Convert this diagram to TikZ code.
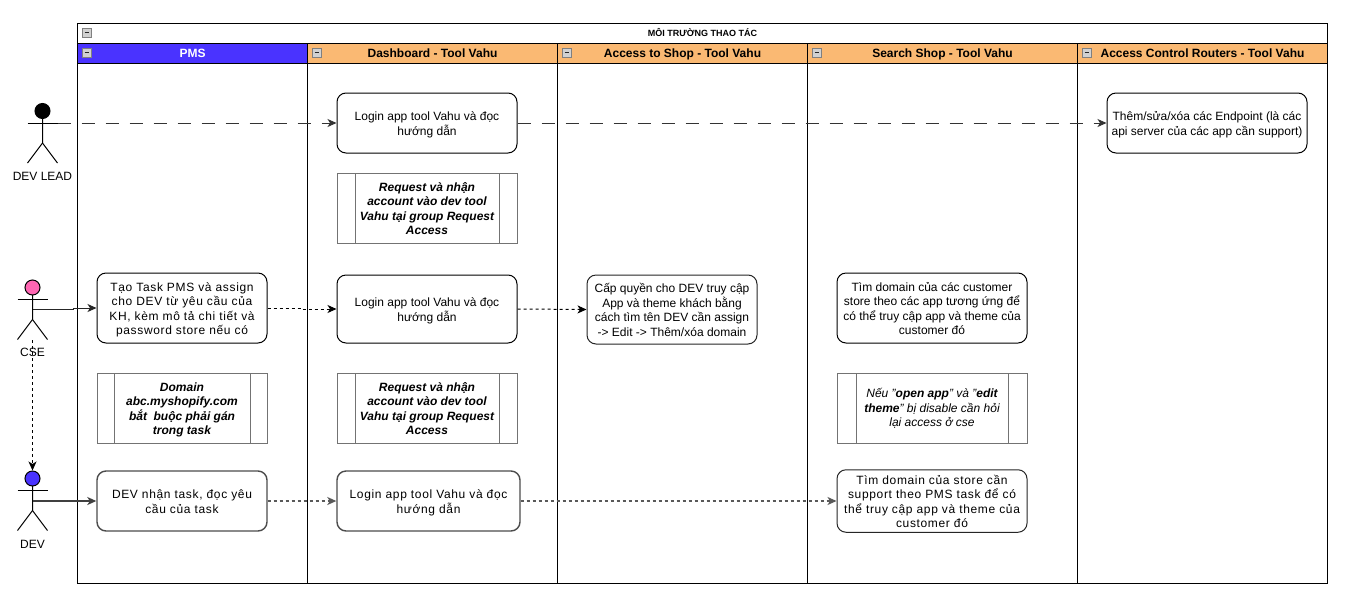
\documentclass[tikz,border=0pt]{standalone}
\usepackage{fontspec}
\setmainfont{Liberation Sans}
\usetikzlibrary{arrows.meta}
\definecolor{headblue}{HTML}{4A33FF}
\definecolor{headorange}{HTML}{FAB973}
\definecolor{csepink}{HTML}{FF66B3}
\newcommand{\sz}{\fontsize{12}{14.5}\selectfont}
\newcommand{\wid}{\addfontfeature{LetterSpace=5.5}}
\newcommand{\collapseicon}[2]{%
  \fill[draw=black!50,fill=black!18,line width=0.9] (#1,#2) rectangle ++(8.5,8.5);
  \draw[line width=1.1,black!85] (#1+2,#2+4.25) -- ++(4.5,0);}
\newcommand{\actorfig}[4]{% name, cx, head cy, colour
  \draw[line width=1,fill=#4] (#2,#3) circle[radius=7.5];
  \draw[line width=1] (#2-15,#3+12) -- (#2+15,#3+12);
  \draw[line width=1] (#2,#3+7.5) -- (#2,#3+32) -- (#2-15,#3+52);
  \draw[line width=1] (#2,#3+32) -- (#2+15,#3+52);}
\tikzset{
  x=1pt,y=-1pt,
  twolines/.style={text height=24.5,text depth=0},
  threelines/.style={text height=37.5,text depth=0},
  fourlines/.style={text height=53,text depth=0},
  lane/.style={draw=black,line width=1,anchor=north west,inner sep=0},
  headtxt/.style={lane,font=\sz\bfseries,minimum height=20,text height=11,text depth=3},
  proc/.style={draw=black,line width=1,rounded corners=9,align=center,inner sep=0,font=\sz},
  procg/.style={proc,draw=black!70,line width=1.4},
  sub/.style={draw=black!55,line width=1,align=center,inner sep=0,font=\sz},
  lab/.style={font=\sz,inner sep=0,text height=11,text depth=3},
  conn/.style={line width=1,-{Stealth[length=9,width=8,inset=2.5]}},
  longdash/.style={conn,black!80,dash pattern=on 13 off 11},
  shortdash/.style={conn,dash pattern=on 3 off 3},
  fatdash/.style={conn,black!65,line width=1.4,dash pattern=on 3 off 3},
}
\begin{document}
\begin{tikzpicture}
\useasboundingbox (0,0) rectangle (1357,611);
\fill[white] (0,0) rectangle (1357,611);
% swimlanes
\node[lane,minimum width=1250,minimum height=20,font=\fontsize{9}{10}\selectfont\bfseries,text height=7,text depth=2] (title) at (77,23) {MÔI TRƯỜNG THAO TÁC};
\node[headtxt,fill=headblue,text=white,minimum width=230] (h1) at (77,43) {PMS};
\node[headtxt,fill=headorange,minimum width=250] (h2) at (307,43) {Dashboard - Tool Vahu};
\node[headtxt,fill=headorange,minimum width=250] (h3) at (557,43) {Access to Shop - Tool Vahu};
\node[headtxt,fill=headorange,minimum width=270] (h4) at (807,43) {Search Shop - Tool Vahu};
\node[headtxt,fill=headorange,minimum width=250] (h5) at (1077,43) {Access Control Routers - Tool Vahu};
\node[lane,minimum width=230,minimum height=520] (l1) at (77,63) {};
\node[lane,minimum width=250,minimum height=520] (l2) at (307,63) {};
\node[lane,minimum width=250,minimum height=520] (l3) at (557,63) {};
\node[lane,minimum width=270,minimum height=520] (l4) at (807,63) {};
\node[lane,minimum width=250,minimum height=520] (l5) at (1077,63) {};
\collapseicon{82.5}{28.5}
\collapseicon{82.5}{48.5}
\collapseicon{312.5}{48.5}
\collapseicon{562.5}{48.5}
\collapseicon{812.5}{48.5}
\collapseicon{1082.5}{48.5}
% actors
\actorfig{lead}{42.5}{111}{black}
\actorfig{cse}{32.5}{287.5}{csepink}
\actorfig{dev}{32.5}{478.5}{headblue}
\node[lab] (leadlab) at (42.5,176.5) {DEV LEAD};
\node[lab] (cselab) at (32.5,352.5) {CSE};
\node[lab] (devlab) at (32.5,544.5) {DEV};
\coordinate (leadarm) at (57.5,123);
\coordinate (csehip) at (32.5,309.7);
\coordinate (csefoot) at (32.5,340);
\coordinate (devhead) at (32.5,470.5);
\coordinate (devhip) at (32.5,501);
% boxes
\node[proc,twolines,minimum width=180,minimum height=60] (b1) at (427,123) {Login app tool Vahu và đọc\\hướng dẫn};
\node[proc,twolines,minimum width=200,minimum height=60] (ep) at (1207,123) {Thêm/sửa/xóa các Endpoint (là các\\api server của các app cần support)};
\node[sub,fourlines,minimum width=180,minimum height=70,font=\sz\bfseries\itshape] (r1) at (427,208) {Request và nhận\\account vào dev tool\\Vahu tại group Request\\Access};
\draw[black!55,line width=1] (355.5,173) -- (355.5,243) (499.5,173) -- (499.5,243);
\node[proc,fourlines,minimum width=170,minimum height=70] (p1) at (182,308) {\wid Tạo Task PMS và assign\\\wid cho DEV từ yêu cầu của\\\wid KH, kèm mô tả chi tiết và\\\wid password store nếu có};
\node[proc,twolines,minimum width=180,minimum height=68] (b2) at (427,309) {Login app tool Vahu và đọc\\hướng dẫn};
\node[proc,fourlines,draw=black!85,minimum width=170,minimum height=69] (cap) at (672,309.5) {Cấp quyền cho DEV truy cập\\App và theme khách bằng\\cách tìm tên DEV cần assign\\ -> Edit -> Thêm/xóa domain};
\node[proc,fourlines,minimum width=190,minimum height=70] (s1) at (932,308) {Tìm domain của các customer\\store theo các app tương ứng để\\có thể truy cập app và theme của\\customer đó};
\node[sub,fourlines,minimum width=170,minimum height=70,font=\sz\bfseries\itshape] (r3) at (182,408) {Domain\\abc.myshopify.com\\bắt\ \ buộc phải gán\\trong task};
\draw[black!55,line width=1] (114,373) -- (114,443) (250,373) -- (250,443);
\node[sub,fourlines,minimum width=180,minimum height=70,font=\sz\bfseries\itshape] (r2) at (427,408) {Request và nhận\\account vào dev tool\\Vahu tại group Request\\Access};
\draw[black!55,line width=1] (355.5,373) -- (355.5,443) (499.5,373) -- (499.5,443);
\node[sub,threelines,minimum width=190,minimum height=70,font=\sz\itshape] (r4) at (932,408) {Nếu "\textbf{open app}" và "\textbf{edit}\\\textbf{theme}" bị disable cần hỏi\\lại access ở cse};
\draw[black!55,line width=1] (856.5,373) -- (856.5,443) (1008,373) -- (1008,443);
\node[procg,twolines,minimum width=170,minimum height=60] (p2) at (182,501) {\wid DEV nhận task, đọc yêu\\\wid cầu của task};
\node[procg,twolines,minimum width=183,minimum height=60] (b3) at (428.5,501) {\wid Login app tool Vahu và đọc\\\wid hướng dẫn};
\node[proc,fourlines,draw=black!85,minimum width=190,minimum height=62.5] (s3) at (932,501) {\wid Tìm domain của store cần\\\wid support theo PMS task để có\\\wid thể truy cập app và theme của\\\wid customer đó};
% connectors
\draw[longdash] (leadarm) -- (b1.west);
\draw[longdash] (b1.east) -- (ep.west);
\draw[conn,black!85] (csehip) -- (73,309.7) -- (73,308) -- (p1.west);
\draw[shortdash] (csefoot) -- (devhead);
\draw[shortdash] (p1.east) -- (302,308) -- (302,309) -- (b2.west);
\draw[shortdash] (b2.east) -- (cap.west);
\draw[conn,black!75,line width=1.4] (devhip) -- (p2.west);
\draw[fatdash] (p2.east) -- (b3.west);
\draw[fatdash] (b3.east) -- (s3.west);
\end{tikzpicture}
\end{document}
